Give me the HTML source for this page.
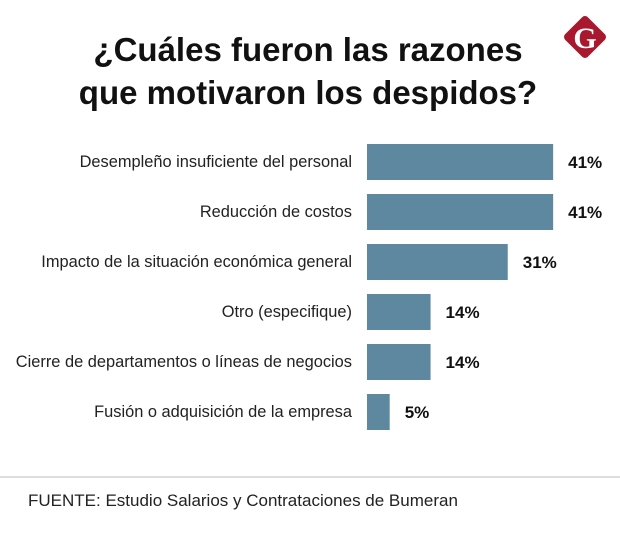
<!DOCTYPE html>
<html><head><meta charset="utf-8"><style>
body{margin:0;width:620px;height:545px;background:#fff;overflow:hidden;font-family:"Liberation Sans",sans-serif;}
svg{display:block}
</style></head><body>
<svg width="620" height="545">
<text x="308" y="61" text-anchor="middle" font-size="33" font-weight="bold" fill="#111">¿Cuáles fueron las razones</text>
<text x="308" y="104" text-anchor="middle" font-size="33" font-weight="bold" fill="#111">que motivaron los despidos?</text>
<g>
<rect x="569" y="21" width="32" height="32" rx="4" fill="#a8182e" transform="rotate(45 585 37)"/>
<text x="585" y="48" text-anchor="middle" font-size="30" font-weight="bold" fill="#fff" font-family="Liberation Serif,serif">G</text>
</g>
<g id="bars"></g>
<line x1="0" y1="477" x2="620" y2="477" stroke="#ddd" stroke-width="2"/>
<text x="28" y="506" font-size="17" fill="#222">FUENTE: Estudio Salarios y Contrataciones de Bumeran</text>
</svg>
<script>
const categories=["Desempleño insuficiente del personal","Reducción de costos","Impacto de la situación económica general","Otro (especifique)","Cierre de departamentos o líneas de negocios","Fusión o adquisición de la empresa"];
const values=[41,41,31,14,14,5];
const valueLabels=["41%","41%","31%","14%","14%","5%"];
const NS="http://www.w3.org/2000/svg";
const g=document.getElementById('bars');
const x0=367, scale=4.54, y0=144, step=50, bh=36;
const xs=v=>v*scale;
const ys=i=>y0+i*step;
categories.forEach((c,i)=>{
  const r=document.createElementNS(NS,'rect');
  r.setAttribute('x',x0);r.setAttribute('y',ys(i));r.setAttribute('width',xs(values[i]));r.setAttribute('height',bh);r.setAttribute('fill','#5d889f');
  
  
  g.appendChild(r);
  const t=document.createElementNS(NS,'text');
  t.setAttribute('x',352);t.setAttribute('y',ys(i)+bh/2+5);t.setAttribute('text-anchor','end');t.setAttribute('font-size','16.4');t.setAttribute('fill','#222');
  t.textContent=c;
  
  
  g.appendChild(t);
  const v=document.createElementNS(NS,'text');
  v.setAttribute('x',x0+xs(values[i])+15);v.setAttribute('y',ys(i)+bh/2+6);v.setAttribute('font-size','17');v.setAttribute('font-weight','bold');v.setAttribute('fill','#111');
  v.textContent=valueLabels[i];
  
  
  g.appendChild(v);
});
</script>
</body></html>
